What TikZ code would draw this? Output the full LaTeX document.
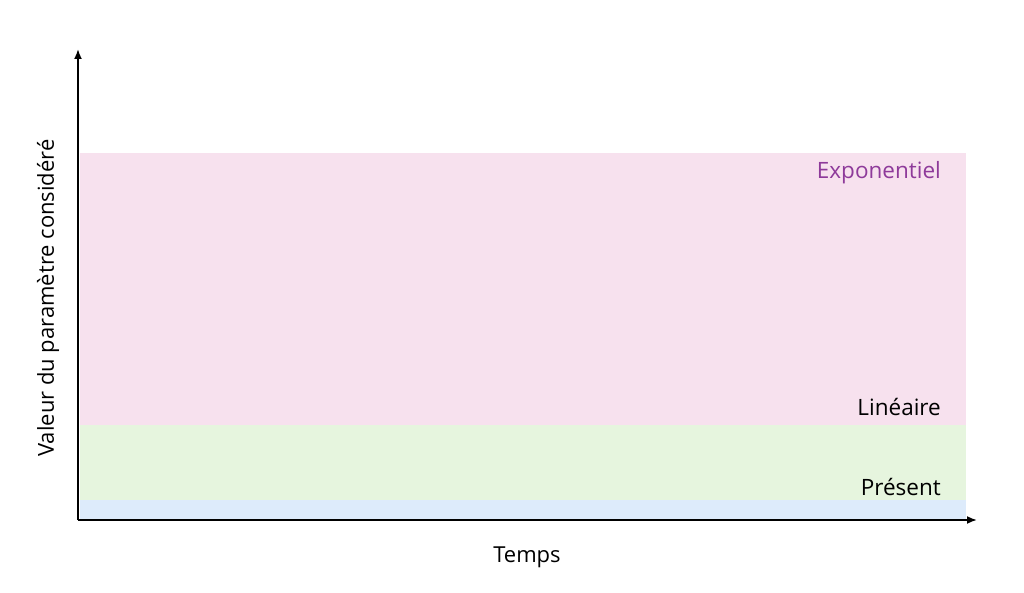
\documentclass[tikz,border=0pt]{standalone}
\usepackage{fontspec}
\setmainfont{Open Sans}
\usetikzlibrary{arrows.meta}
\definecolor{bandblue}{HTML}{DDEBFB}
\definecolor{bandgreen}{HTML}{E6F5DE}
\definecolor{bandpink}{HTML}{F7E1EE}
\definecolor{expopurple}{HTML}{8E3A9A}
\begin{document}
\begin{tikzpicture}[
  x=1pt, y=-1pt,
  axis/.style={line width=1.8pt,-{Latex[length=10pt,width=8pt]}},
  bandlabel/.style={anchor=east,inner sep=0pt,font=\fontsize{22.5}{27}\selectfont}
]
\useasboundingbox (0,0) rectangle (1024,593);

% bandes
\fill[bandpink] (80,153) rectangle (966,425);
\fill[bandgreen] (80,425) rectangle (966,500);
\fill[bandblue] (80,500) rectangle (966,520);

% axes
\coordinate (origin) at (78,520);
\coordinate (ytip) at (78,49);
\coordinate (xtip) at (977,520);
\draw[axis] (origin) -- (ytip);
\draw[axis] (origin) -- (xtip);

\node[bandlabel,text=expopurple] (expo) at (941,173) {Exponentiel};
\node[bandlabel] (lin) at (941,407) {Linéaire};
\node[bandlabel] (pres) at (941,487) {Présent};

\node[font=\fontsize{22}{26}\selectfont] (temps) at (527,557) {Temps};
\node[font=\fontsize{22}{26}\selectfont,rotate=90] (valeur) at (48,298) {Valeur du paramètre considéré};
\end{tikzpicture}
\end{document}
